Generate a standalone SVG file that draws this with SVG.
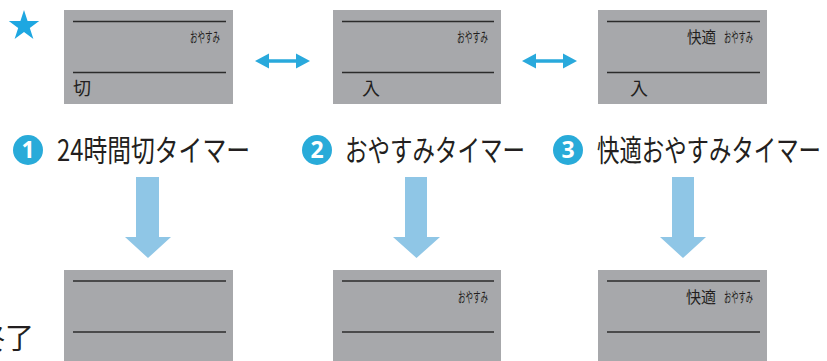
<svg xmlns="http://www.w3.org/2000/svg" width="827" height="361" viewBox="0 0 827 361">
<defs>
<style>
.panel{fill:#a7a8ab}
.rule{stroke:#2b2b2b;stroke-width:1.6}
.t{font-family:"Noto Sans CJK JP","Noto Sans",sans-serif;fill:#231f20}
.title{font-size:30px}
.num{fill:#29abd9}
.numt{font-family:"Noto Sans","DejaVu Sans",sans-serif;font-size:23px;font-weight:bold;fill:#ffffff}
.dbl{fill:#29a9dc}
.down{fill:#8fc6e6}
</style>
</defs>
<rect width="827" height="361" fill="#ffffff"/>
<polygon fill="#1ea7e1" points="24,10 27.59,21.06 39.22,21.06 29.81,27.89 33.4,38.94 24,32.11 14.6,38.94 18.19,27.89 8.78,21.06 20.41,21.06"/>

<g id="panel-off">
<rect class="panel" x="64" y="10" width="169" height="94"/>
<line class="rule" x1="73" y1="21.5" x2="226" y2="21.5"/>
<line class="rule" x1="73" y1="72.5" x2="226" y2="72.5"/>
<text class="t" x="190" y="41.5" font-size="14" textLength="30" lengthAdjust="spacingAndGlyphs">おやすみ</text>
<text class="t" x="73" y="94.5" font-size="18">切</text>
</g>
<g id="panel-sleep">
<rect class="panel" x="333" y="10" width="168" height="94"/>
<line class="rule" x1="342" y1="21.5" x2="494" y2="21.5"/>
<line class="rule" x1="342" y1="72.5" x2="494" y2="72.5"/>
<text class="t" x="457" y="41.5" font-size="14" textLength="31" lengthAdjust="spacingAndGlyphs">おやすみ</text>
<text class="t" x="362" y="94.5" font-size="18">入</text>
</g>
<g id="panel-comfort">
<rect class="panel" x="598" y="10" width="169" height="94"/>
<line class="rule" x1="607" y1="21.5" x2="760" y2="21.5"/>
<line class="rule" x1="607" y1="72.5" x2="760" y2="72.5"/>
<text class="t" x="687" y="42.5" font-size="16" textLength="29" lengthAdjust="spacingAndGlyphs">快適</text>
<text class="t" x="724" y="41.5" font-size="14" textLength="29" lengthAdjust="spacingAndGlyphs">おやすみ</text>
<text class="t" x="630" y="94.5" font-size="18">入</text>
</g>

<g id="label-1">
<circle class="num" cx="28" cy="150" r="15"/>
<text class="numt" x="28" y="158" text-anchor="middle">1</text>
<text class="t title" x="57" y="161" textLength="193" lengthAdjust="spacingAndGlyphs">24時間切タイマー</text>
</g>
<g id="label-2">
<circle class="num" cx="317" cy="150" r="15"/>
<text class="numt" x="317" y="158" text-anchor="middle">2</text>
<text class="t title" x="345" y="161" textLength="180" lengthAdjust="spacingAndGlyphs">おやすみタイマー</text>
</g>
<g id="label-3">
<circle class="num" cx="568" cy="150" r="15"/>
<text class="numt" x="568" y="158" text-anchor="middle">3</text>
<text class="t title" x="597" y="161" textLength="224" lengthAdjust="spacingAndGlyphs">快適おやすみタイマー</text>
</g>

<g id="connectors">
<polygon class="dbl" points="255,61 269,53.5 269,59.2 296,59.2 296,53.5 310,61 296,68.5 296,62.8 269,62.8 269,68.5"/>
<polygon class="dbl" points="522,61 536,53.5 536,59.2 563,59.2 563,53.5 577,61 563,68.5 563,62.8 536,62.8 536,68.5"/>
<polygon class="down" points="136,177 159,177 159,237 171,237 148,258 125,237 136,237"/>
<polygon class="down" points="405,177 427,177 427,237 440,237 416.5,258 393,237 405,237"/>
<polygon class="down" points="672,177 694,177 694,237 706,237 683,258 660,237 672,237"/>
</g>

<g id="result-off">
<rect class="panel" x="64" y="270" width="169" height="100"/>
<line class="rule" x1="73" y1="281" x2="226" y2="281"/>
<line class="rule" x1="73" y1="332" x2="226" y2="332"/>
</g>
<g id="result-sleep">
<rect class="panel" x="333" y="270" width="168" height="100"/>
<line class="rule" x1="342" y1="281" x2="494" y2="281"/>
<line class="rule" x1="342" y1="332" x2="494" y2="332"/>
<text class="t" x="458" y="301.5" font-size="14" textLength="30" lengthAdjust="spacingAndGlyphs">おやすみ</text>
</g>
<g id="result-comfort">
<rect class="panel" x="598" y="270" width="169" height="100"/>
<line class="rule" x1="607" y1="281" x2="760" y2="281"/>
<line class="rule" x1="607" y1="332" x2="760" y2="332"/>
<text class="t" x="686" y="302.5" font-size="16" textLength="30" lengthAdjust="spacingAndGlyphs">快適</text>
<text class="t" x="724" y="301.5" font-size="14" textLength="29" lengthAdjust="spacingAndGlyphs">おやすみ</text>
</g>

<text class="t" x="34" y="349" font-size="29" text-anchor="end">終了</text>
</svg>
